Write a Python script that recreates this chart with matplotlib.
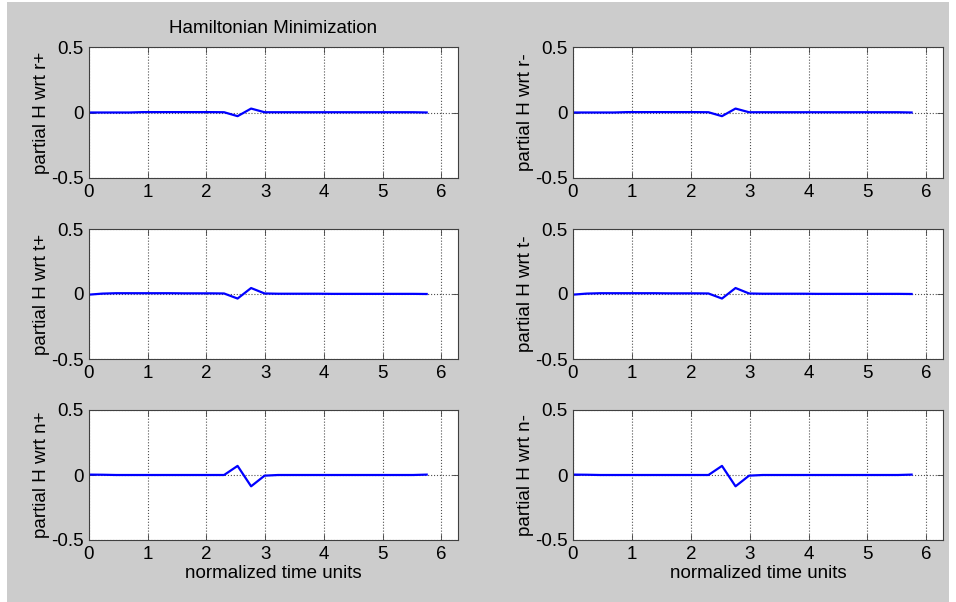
import matplotlib
matplotlib.use('Agg')
import matplotlib.pyplot as plt
import numpy as np
from matplotlib.patches import Rectangle

plt.rcParams['font.family'] = ['Liberation Sans', 'DejaVu Sans']
fontsz = 13.5

# normalized time samples
t = [0.00, 0.23, 0.46, 0.69, 0.92, 1.15, 1.38, 1.61, 1.84, 2.07, 2.30, 2.53, 2.76,
     2.99, 3.22, 3.45, 3.68, 3.91, 4.14, 4.37, 4.60, 4.83, 5.06, 5.29, 5.52, 5.75]

# partial derivatives of H
dH_r = [0.000, 0.000, 0.000, 0.000, 0.003, 0.003, 0.003, 0.003, 0.003, 0.003, 0.002, -0.028, 0.030,
        0.002, 0.002, 0.002, 0.002, 0.002, 0.002, 0.002, 0.002, 0.002, 0.002, 0.002, 0.002, 0.000]
dH_t = [-0.005, 0.003, 0.006, 0.006, 0.006, 0.006, 0.006, 0.005, 0.005, 0.005, 0.004, -0.035, 0.046,
        0.004, 0.002, 0.002, 0.002, 0.002, 0.001, 0.001, 0.001, 0.001, 0.001, 0.001, 0.001, 0.000]
dH_n = [0.003, 0.002, 0.000, 0.000, 0.000, 0.000, 0.000, 0.000, 0.000, 0.000, 0.000, 0.070, -0.087,
        -0.005, 0.000, 0.000, 0.000, 0.000, 0.000, 0.000, 0.000, 0.000, 0.000, 0.000, 0.000, 0.003]

panels = [
    [('partial H wrt r+', dH_r), ('partial H wrt r-', dH_r)],
    [('partial H wrt t+', dH_t), ('partial H wrt t-', dH_t)],
    [('partial H wrt n+', dH_n), ('partial H wrt n-', dH_n)],
]

W, H = 956, 602
fig = plt.figure(figsize=(W / 100, H / 100), dpi=100)
fig.patch.set_facecolor('white')
fig.patches.append(Rectangle((7 / W, 0), 942 / W, 600 / H, transform=fig.transFigure,
                             facecolor='#cccccc', edgecolor='none', zorder=-10))

lefts = [89, 573]
widths = [369, 370]
tops = [47, 229, 410]
heights = [131, 130, 130]

for r in range(3):
    for c in range(2):
        label, y = panels[r][c]
        ax = fig.add_axes([lefts[c] / W, (H - tops[r] - heights[r]) / H, widths[c] / W, heights[r] / H])
        ax.plot(t, y, color='#0000ff', lw=1.6)
        ax.set_xlim(0, 2 * np.pi)
        ax.set_ylim(-0.5, 0.5)
        ax.set_xticks([0, 1, 2, 3, 4, 5, 6])
        ax.set_yticks([-0.5, 0, 0.5])
        ax.set_yticklabels(['-0.5', '0', '0.5'])
        ax.grid(True, linestyle=':', color='#505050', lw=0.8)
        ax.tick_params(direction='in', length=4, width=0.6, labelsize=fontsz, pad=4,
                       top=True, right=True, color='#404040')
        for s in ax.spines.values():
            s.set_color('#404040')
            s.set_linewidth(0.8)
        ax.set_ylabel(label, fontsize=fontsz)
        ax.yaxis.set_label_coords(-0.105, 0.5)
        if r == 2:
            ax.set_xlabel('normalized time units', fontsize=fontsz, labelpad=2)
        if r == 0 and c == 0:
            ax.set_title('Hamiltonian Minimization', fontsize=fontsz, pad=10)

plt.savefig('out.png', dpi=100)
